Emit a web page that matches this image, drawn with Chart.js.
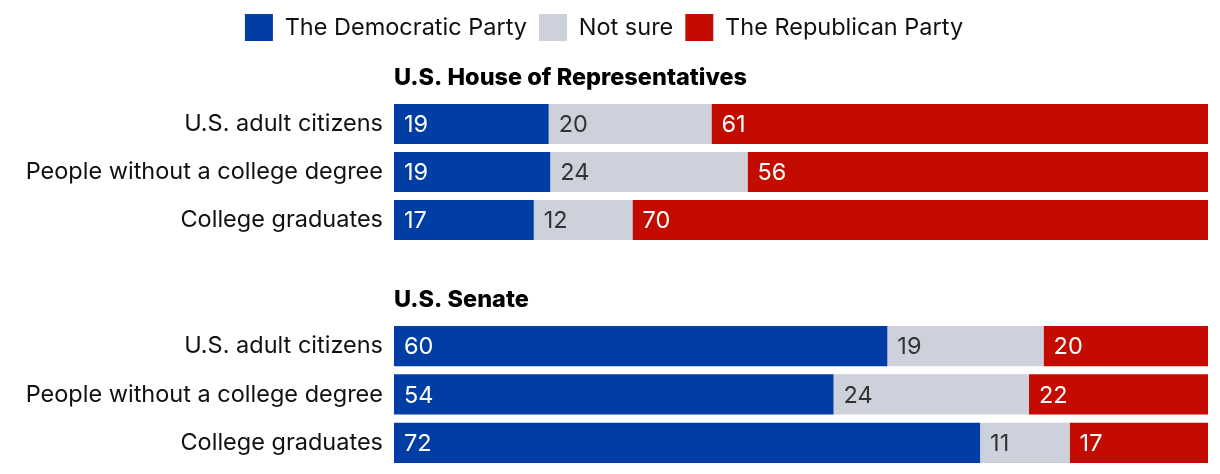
<!DOCTYPE html>
<html>
<head>
<meta charset="utf-8">
<script src="https://cdn.jsdelivr.net/npm/chart.js@4.4.1/dist/chart.umd.min.js"></script>
<style>
  html, body { margin: 0; padding: 0; background: #ffffff; }
  body { width: 1220px; height: 474px; position: relative; overflow: hidden; }
  canvas { position: absolute; left: 0; display: block; }
  #c1 { top: 0; }
  #c2 { top: 278px; }
</style>
</head>
<body>
<canvas id="c1" width="1220" height="269"></canvas>
<canvas id="c2" width="1220" height="214"></canvas>
<script>
// ---- data ----
const categories = ["U.S. adult citizens", "People without a college degree", "College graduates"];
const seriesNames = ["The Democratic Party", "Not sure", "The Republican Party"];
const seriesColors = ["#003da5", "#cdd1db", "#c40b00"];
const labelColors = ["#ffffff", "#333333", "#ffffff"];
const houseTitle = "U.S. House of Representatives";
const senateTitle = "U.S. Senate";
const houseDem = [19, 19, 17];
const houseNotSure = [20, 24, 12];
const houseRep = [61, 56, 70];
const senateDem = [60, 54, 72];
const senateNotSure = [19, 24, 11];
const senateRep = [20, 22, 17];

const FONT = "Inter, 'Noto Sans', sans-serif";
const FS = 23.5;

function shares(series, i) {
  const total = series.reduce((s, arr) => s + arr[i], 0);
  return series.map(arr => arr[i] / total * 100);
}

function buildDatasets(raw) {
  return raw.map((arr, k) => ({
    label: seriesNames[k],
    data: arr.map((v, i) => shares(raw, i)[k]),
    raw: arr,
    backgroundColor: seriesColors[k],
    borderWidth: 0,
    barPercentage: 1,
    categoryPercentage: 40 / 48
  }));
}

const valueLabels = {
  id: 'valueLabels',
  afterDatasetsDraw(chart) {
    const ctx = chart.ctx;
    ctx.save();
    ctx.font = "400 " + FS + "px " + FONT;
    ctx.textBaseline = 'middle';
    ctx.textAlign = 'left';
    chart.data.datasets.forEach((ds, k) => {
      const meta = chart.getDatasetMeta(k);
      meta.data.forEach((el, i) => {
        ctx.fillStyle = labelColors[k];
        ctx.fillText(String(ds.raw[i]), Math.min(el.x, el.base) + 10, el.y + 1);
      });
    });
    ctx.restore();
  }
};

const groupTitle = {
  id: 'groupTitle',
  afterDraw(chart, args, opts) {
    const ctx = chart.ctx;
    ctx.save();
    ctx.font = "800 " + FS + "px " + FONT;
    ctx.fillStyle = '#000000';
    ctx.textBaseline = 'middle';
    ctx.textAlign = 'left';
    ctx.fillText(opts.text, chart.chartArea.left, chart.chartArea.top - 22);
    ctx.restore();
  }
};

function makeChart(id, raw, title, showLegend, padTop, topGap) {
  return new Chart(document.getElementById(id), {
    type: 'bar',
    data: { labels: categories, datasets: buildDatasets(raw) },
    options: {
      indexAxis: 'y',
      responsive: false,
      animation: false,
      layout: { padding: { top: padTop, right: 12, bottom: 8, left: 0 } },
      scales: {
        x: {
          stacked: true, min: 0, max: 100, position: 'top',
          display: true,
          grid: { display: false, drawTicks: false },
          border: { display: false },
          ticks: { display: false },
          afterFit(scale) { scale.height = topGap; }
        },
        y: {
          stacked: true,
          grid: { display: false, drawTicks: false },
          border: { display: false },
          ticks: { font: { family: FONT, size: FS }, color: '#111111', padding: 11 },
          afterFit(scale) { scale.width = 394; }
        }
      },
      plugins: {
        legend: {
          display: showLegend,
          position: 'top',
          align: 'center',
          labels: {
            boxWidth: 28, boxHeight: 27, padding: 12,
            font: { family: FONT, size: FS }, color: '#111111'
          }
        },
        tooltip: { enabled: false },
        groupTitle: { text: title }
      }
    },
    plugins: [valueLabels, groupTitle]
  });
}

makeChart('c1', [houseDem, houseNotSure, houseRep], houseTitle, true, 2, 49);
makeChart('c2', [senateDem, senateNotSure, senateRep], senateTitle, false, 0, 44);
</script>
</body>
</html>
